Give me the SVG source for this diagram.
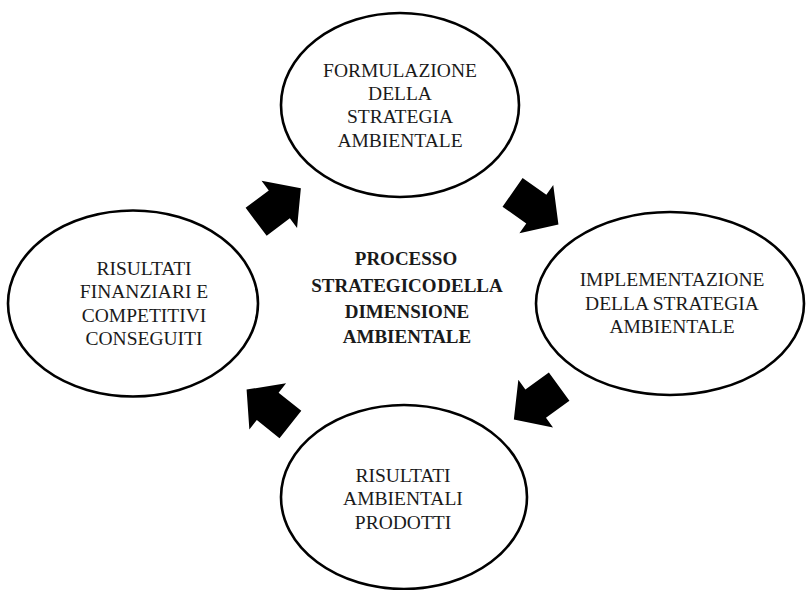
<svg xmlns="http://www.w3.org/2000/svg" width="806" height="590" viewBox="0 0 806 590">
<defs>
<style>
.node ellipse{fill:#fff;stroke:#000;stroke-width:2.6}
.t{font-family:"Liberation Serif","Times New Roman",serif;font-size:19.5px;fill:#1a1a1a;text-anchor:middle}
.b{font-family:"Liberation Serif","Times New Roman",serif;font-size:19px;font-weight:bold;fill:#1a1a1a;text-anchor:middle}
.arr{fill:#000}
</style>
<path id="ar" d="M-28,-17.5 L1,-17.5 L1,-29.5 L28,0 L1,29.5 L1,17.5 L-28,17.5 Z"/>
</defs>
<rect width="806" height="590" fill="#fff"/>
<g id="formulazione" class="node">
<ellipse cx="400" cy="105" rx="119" ry="92"/>
<text class="t" x="400" y="77">FORMULAZIONE</text>
<text class="t" x="400" y="100">DELLA</text>
<text class="t" x="400" y="123">STRATEGIA</text>
<text class="t" x="400" y="147">AMBIENTALE</text>
</g>
<g id="risultati-finanziari" class="node">
<ellipse cx="133" cy="303.5" rx="125" ry="93"/>
<text class="t" x="144" y="275">RISULTATI</text>
<text class="t" x="144" y="298">FINANZIARI E</text>
<text class="t" x="144" y="322">COMPETITIVI</text>
<text class="t" x="144" y="345">CONSEGUITI</text>
</g>
<g id="implementazione" class="node">
<ellipse cx="670" cy="303.5" rx="134" ry="91.5"/>
<text class="t" x="672" y="286">IMPLEMENTAZIONE</text>
<text class="t" x="672" y="310">DELLA STRATEGIA</text>
<text class="t" x="672" y="333">AMBIENTALE</text>
</g>
<g id="risultati-ambientali" class="node">
<ellipse cx="404" cy="497" rx="123" ry="92"/>
<text class="t" x="403" y="482">RISULTATI</text>
<text class="t" x="403" y="505">AMBIENTALI</text>
<text class="t" x="403" y="529">PRODOTTI</text>
</g>
<g id="centro">
<text class="b" x="406" y="265">PROCESSO</text>
<text class="b" x="407" y="292" word-spacing="-4">STRATEGICO DELLA</text>
<text class="b" x="407" y="318">DIMENSIONE</text>
<text class="b" x="407" y="343">AMBIENTALE</text>
</g>
<g id="connectors" class="arr">
<use href="#ar" transform="translate(278.5,205) rotate(-37)"/>
<use href="#ar" transform="translate(535.5,208.5) rotate(35)"/>
<use href="#ar" transform="translate(536.5,403) rotate(144)"/>
<use href="#ar" transform="translate(268.5,407) rotate(-141.5)"/>
</g>
</svg>
